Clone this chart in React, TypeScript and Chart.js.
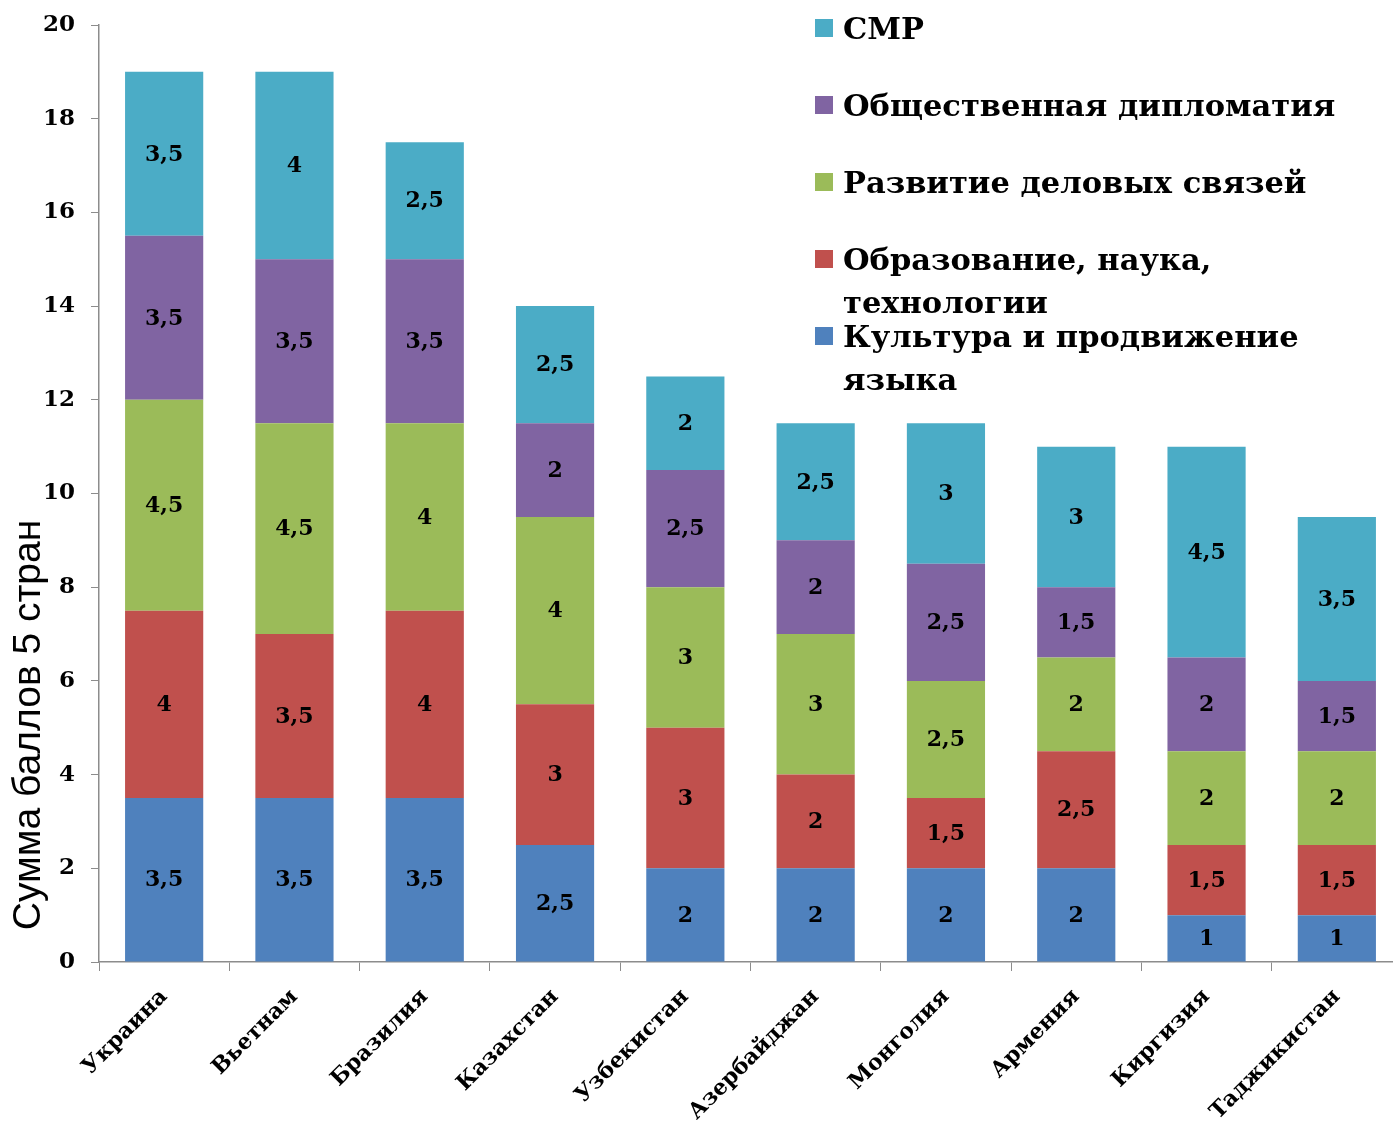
import React, { useEffect, useRef } from "react";
import { Chart, registerables } from "chart.js";

Chart.register(...registerables);

const categories = [
  "Украина",
  "Вьетнам",
  "Бразилия",
  "Казахстан",
  "Узбекистан",
  "Азербайджан",
  "Монголия",
  "Армения",
  "Киргизия",
  "Таджикистан",
];
const culture = [3.5, 3.5, 3.5, 2.5, 2, 2, 2, 2, 1, 1];
const education = [4, 3.5, 4, 3, 3, 2, 1.5, 2.5, 1.5, 1.5];
const business = [4.5, 4.5, 4, 4, 3, 3, 2.5, 2, 2, 2];
const diplomacy = [3.5, 3.5, 3.5, 2, 2.5, 2, 2.5, 1.5, 2, 1.5];
const smr = [3.5, 4, 2.5, 2.5, 2, 2.5, 3, 3, 4.5, 3.5];

const seriesNames = [
  "Культура и продвижение языка",
  "Образование, наука, технологии",
  "Развитие деловых связей",
  "Общественная дипломатия",
  "СМР",
];
const legendLines = [
  ["Культура и продвижение", "языка"],
  ["Образование, наука,", "технологии"],
  ["Развитие деловых связей"],
  ["Общественная дипломатия"],
  ["СМР"],
];
const seriesColors = ["#4F81BD", "#C0504D", "#9BBB59", "#8064A2", "#4BACC6"];
const yMin = 0;
const yMax = 20;
const yStep = 2;
const yTitle = "Сумма баллов 5 стран";

const SERIF = "'DejaVu Serif', 'Liberation Serif', serif";
const SANS = "'Liberation Sans', 'DejaVu Sans', sans-serif";

const fmt = (v: number) => String(v).replace(".", ",");

const dataLabelPlugin = {
  id: "dataLabels",
  afterDatasetsDraw(chart: any) {
    const ctx = chart.ctx;
    ctx.save();
    ctx.font = `bold 22px ${SERIF}`;
    ctx.fillStyle = "#000";
    ctx.textAlign = "center";
    ctx.textBaseline = "middle";
    chart.data.datasets.forEach((ds: any, di: number) => {
      const meta = chart.getDatasetMeta(di);
      meta.data.forEach((el: any, i: number) => {
        const v = ds.data[i];
        if (!v) return;
        ctx.fillText(fmt(v), el.x, (el.y + el.base) / 2 + 1);
      });
    });
    ctx.restore();
  },
};

const legendPlugin = {
  id: "customLegend",
  afterDraw(chart: any) {
    const ctx = chart.ctx;
    ctx.save();
    ctx.font = `bold 30.5px ${SERIF}`;
    ctx.textBaseline = "middle";
    ctx.textAlign = "left";
    const order = [4, 3, 2, 1, 0];
    order.forEach((si, k) => {
      const y = 28 + k * 77;
      ctx.fillStyle = seriesColors[si];
      ctx.fillRect(815, y - 9, 18, 18);
      ctx.fillStyle = "#000";
      legendLines[si].forEach((line, li) => {
        ctx.fillText(line, 843, y + 3 + li * 43);
      });
    });
    ctx.restore();
  },
};

const yTitlePlugin = {
  id: "yTitle",
  afterDraw(chart: any) {
    const ctx = chart.ctx;
    ctx.save();
    ctx.translate(29, 725);
    ctx.rotate(-Math.PI / 2);
    ctx.font = `39px ${SANS}`;
    ctx.fillStyle = "#000";
    ctx.textAlign = "center";
    ctx.textBaseline = "middle";
    ctx.fillText(yTitle, 0, 0);
    ctx.restore();
  },
};

export default function App() {
  const ref = useRef<HTMLCanvasElement | null>(null);
  useEffect(() => {
    if (!ref.current) return;
    const data = [culture, education, business, diplomacy, smr];
    const chart = new Chart(ref.current, {
      type: "bar",
      data: {
        labels: categories,
        datasets: data.map((d, i) => ({
          label: seriesNames[i],
          data: d,
          backgroundColor: seriesColors[i],
          borderWidth: 0,
          barPercentage: 0.6,
          categoryPercentage: 1,
        })),
      },
      options: {
        animation: false,
        responsive: false,
        maintainAspectRatio: false,
        layout: { padding: { top: 25, right: 3, left: 0, bottom: 0 } },
        plugins: {
          legend: { display: false },
          tooltip: { enabled: false },
        },
        scales: {
          x: {
            stacked: true,
            offset: true,
            grid: {
              offset: true,
              drawOnChartArea: false,
              tickLength: 9,
              color: "#8c8c8c",
            },
            border: { color: "#8c8c8c", width: 1.5 },
            ticks: {
              minRotation: 45,
              maxRotation: 45,
              color: "#000",
              padding: 13,
              font: { family: SERIF, size: 22, weight: "bold" },
            },
            afterFit: (s: any) => {
              s.height = 160;
              s.paddingLeft = 0;
              s.paddingRight = 0;
            },
          },
          y: {
            stacked: true,
            min: yMin,
            max: yMax,
            grid: {
              drawOnChartArea: false,
              tickLength: 8,
              color: "#8c8c8c",
            },
            border: { color: "#8c8c8c", width: 1.5 },
            ticks: {
              stepSize: yStep,
              color: "#000",
              padding: 16,
              font: { family: SERIF, size: 23, weight: "bold" },
            },
            afterFit: (s: any) => {
              s.width = 99;
              s.paddingTop = 0;
              s.paddingBottom = 0;
            },
          },
        },
      },
      plugins: [dataLabelPlugin, legendPlugin, yTitlePlugin],
    } as any);
    return () => chart.destroy();
  }, []);
  return (
    <div
      style={{
        position: "fixed",
        left: 0,
        top: 0,
        width: 1393,
        height: 1122,
        overflow: "hidden",
        background: "#fff",
      }}
    >
      <canvas ref={ref} width={1405} height={1122} style={{ display: "block" }} />
    </div>
  );
}
